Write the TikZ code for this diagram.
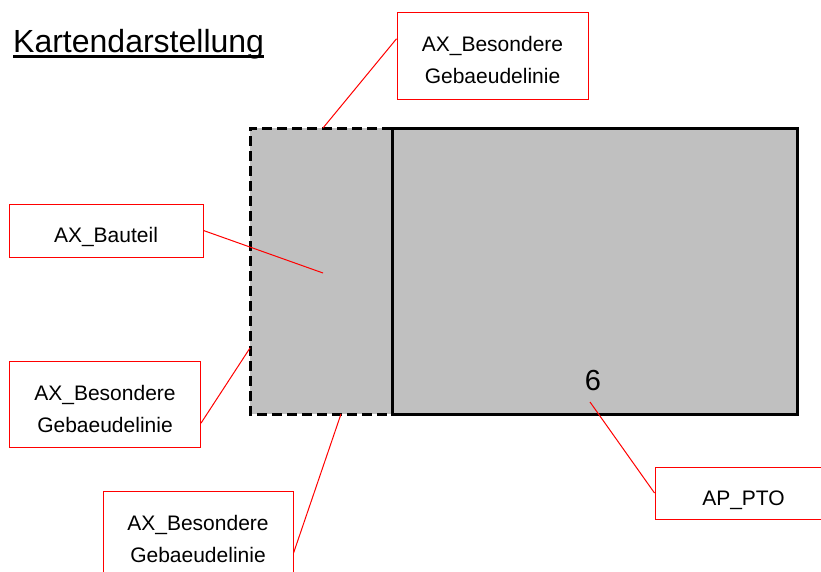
\documentclass[tikz,border=0pt]{standalone}
\usepackage{fontspec}
\setmainfont{Liberation Sans}
\usetikzlibrary{calc}

\definecolor{hausgrau}{RGB}{192,192,192}
% Schildtext etwas tiefer setzen, ohne die Knotengroesse zu aendern
\newcommand\schildtext[1]{\raisebox{-6pt}[\height][\depth]{\begin{tabular}{@{}c@{}}#1\end{tabular}}}

\begin{document}
\begin{tikzpicture}[x=1pt,y=-1pt,
    schild/.style={draw=red,line width=1pt,fill=white,inner sep=0pt,
      font=\fontsize{21}{32}\selectfont},
    zeiger/.style={red,line width=1pt},
    kante/.style={line width=3pt}]
  \useasboundingbox (0,0) rectangle (821,571);
  \clip (0,0) rectangle (821,571);

  % Ueberschrift
  \node[anchor=base west,inner sep=0pt,font=\fontsize{32}{32}\selectfont] (titel) at (13,52) {Kartendarstellung};
  \draw[line width=2.8pt] ([yshift=-4.5pt]titel.base west) -- ([yshift=-4.5pt]titel.base east);

  % Gebaeude: Bauteil gestrichelt, Hauptgebaeude durchgezogen
  \fill[hausgrau] (250,128) rectangle (797,414);
  \draw[kante,dash pattern=on 10pt off 5pt] (392,128) -- (250,128) -- (250,414) -- (392,414);
  \draw[kante] (392,128) rectangle (797,414);
  \node[inner sep=0pt,font=\fontsize{29}{29}\selectfont] (hsnr) at (593,381) {6};

  \coordinate (bOben) at (323,128);
  \coordinate (bMitte) at (323,273);
  \coordinate (bLinks) at (250,348);
  \coordinate (bUnten) at (341,414);
  \coordinate (bNr) at (590,402);

  % Beschriftungen
  \node[schild,minimum width=191,minimum height=87] (lblOben) at (492.5,55.5) {\schildtext{AX\_Besondere\\Gebaeudelinie}};
  \node[schild,minimum width=194,minimum height=53] (lblBauteil) at (106,230.5) {\schildtext{AX\_Bauteil}};
  \node[schild,minimum width=191,minimum height=86] (lblLinks) at (105,404) {\schildtext{AX\_Besondere\\Gebaeudelinie}};
  \node[schild,minimum width=190,minimum height=86] (lblUnten) at (198,534) {\schildtext{AX\_Besondere\\Gebaeudelinie}};
  \node[schild,minimum width=177,minimum height=52] (lblPTO) at (743.5,493) {\schildtext{AP\_PTO}};

  \draw[zeiger] ($(lblOben.north west)!0.31!(lblOben.south west)$) -- (bOben);
  \draw[zeiger] (lblBauteil.east) -- (bMitte);
  \draw[zeiger] ($(lblLinks.north east)!0.72!(lblLinks.south east)$) -- (bLinks);
  \draw[zeiger] ($(lblUnten.north east)!0.72!(lblUnten.south east)$) -- (bUnten);
  \draw[zeiger] (lblPTO.west) -- (bNr);
\end{tikzpicture}
\end{document}
